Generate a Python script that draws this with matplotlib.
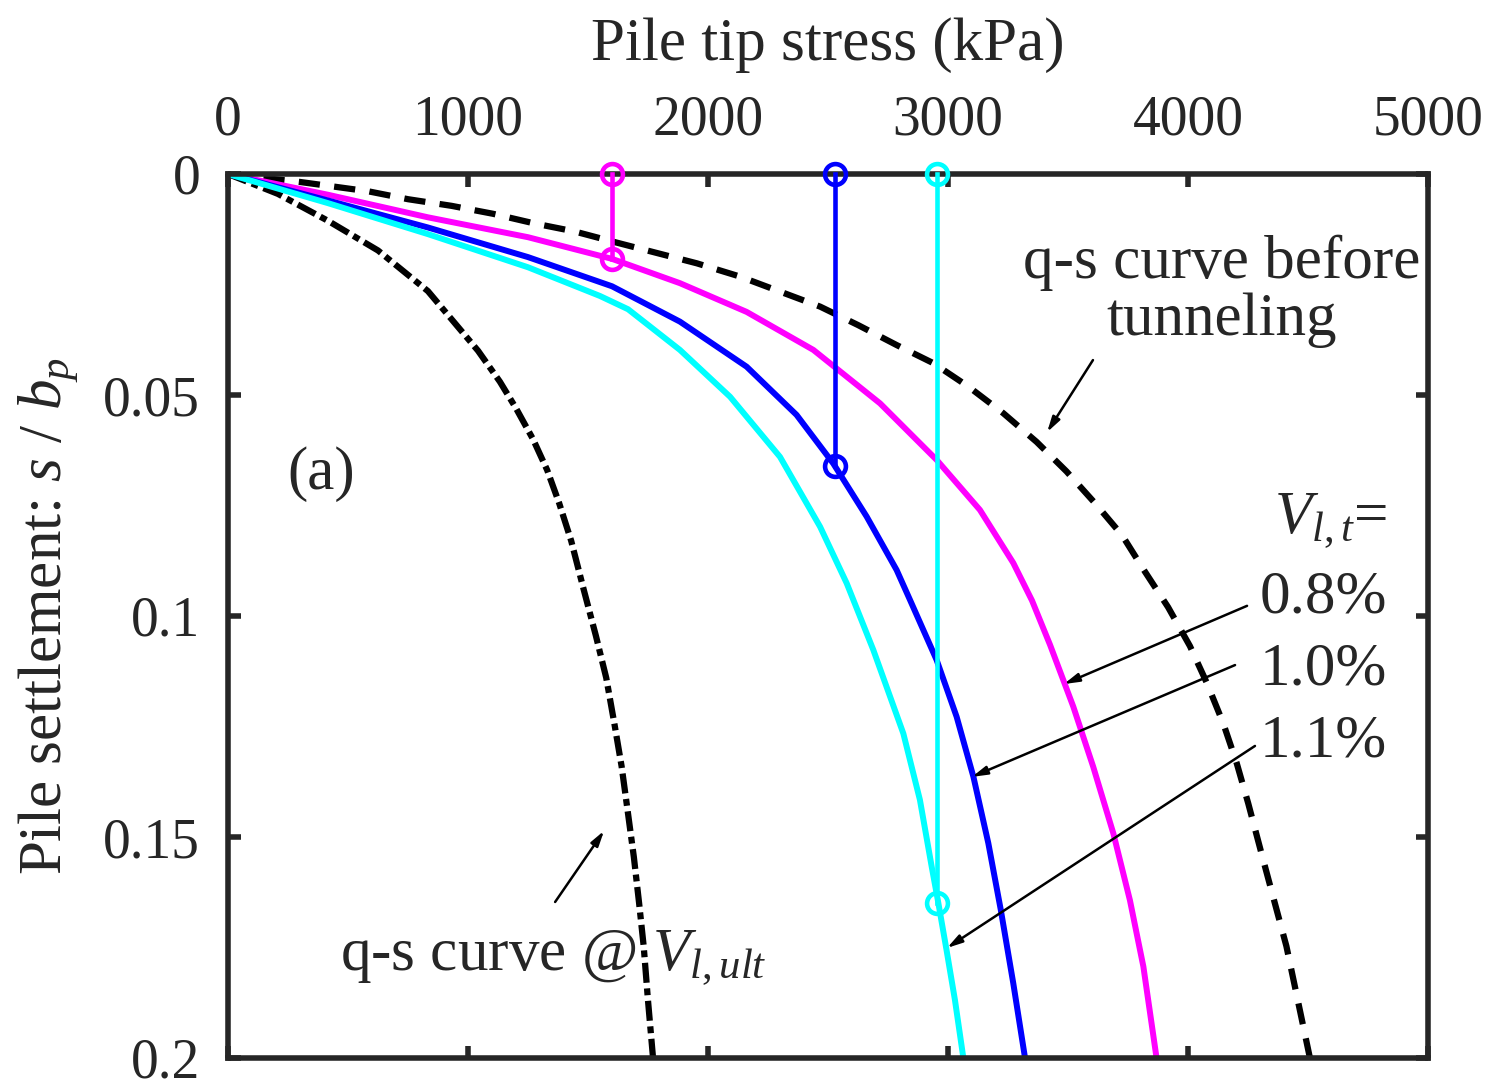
import matplotlib
matplotlib.use("Agg")
import matplotlib.pyplot as plt

plt.rcParams['font.family'] = ['Liberation Serif', 'DejaVu Serif']
plt.rcParams['mathtext.fontset'] = 'custom'
plt.rcParams['mathtext.rm'] = 'Liberation Serif'
plt.rcParams['mathtext.it'] = 'Liberation Serif:italic'

# --- data (q in kPa, s/b_p) ---
before_q = [0, 300, 583, 750, 931, 1104, 1278, 1444, 1618, 1953, 2133, 2300, 2467, 2626, 2786, 2939,
            3085, 3230, 3369, 3494, 3613, 3725, 3821, 3917, 4008, 4079, 4147, 4203, 4251, 4310,
            4410, 4508]
before_s = [0, 0.0018, 0.0039, 0.0057, 0.0072, 0.0090, 0.0112, 0.0130, 0.0155, 0.0202, 0.0232,
            0.0266, 0.0300, 0.0342, 0.0387, 0.0428, 0.0481, 0.0541, 0.0606, 0.0673, 0.0745,
            0.0817, 0.0900, 0.0980, 0.1068, 0.1152, 0.1243, 0.1333, 0.1424, 0.1545, 0.1747, 0.2000]

ult_q = [0, 208, 417, 625, 833, 1042, 1133, 1200, 1271, 1330, 1380, 1430, 1482, 1533, 1576, 1611,
         1640, 1667, 1691, 1713, 1732, 1750, 1771]
ult_s = [0, 0.0045, 0.0106, 0.0173, 0.0265, 0.0400, 0.0470, 0.0530, 0.0600, 0.0670, 0.0745,
         0.0830, 0.0940, 0.1045, 0.1140, 0.1247, 0.1340, 0.1448, 0.1545, 0.1650, 0.1747, 0.1870,
         0.2000]

m_q = [0, 417, 833, 1250, 1600, 1883, 2161, 2439, 2717, 2953, 3133, 3272, 3350, 3425, 3522, 3605,
       3689, 3758, 3814, 3869]
m_s = [0, 0.0047, 0.0098, 0.0143, 0.0192, 0.0247, 0.0312, 0.0398, 0.0519, 0.0647, 0.0760, 0.0880,
       0.0965, 0.1065, 0.1205, 0.1341, 0.1492, 0.1643, 0.1793, 0.2000]

b_q = [0, 417, 833, 1250, 1600, 1883, 2161, 2369, 2522, 2661, 2786, 2842, 2953, 3036, 3106, 3168,
       3220, 3272, 3321]
b_s = [0, 0.0060, 0.0121, 0.0188, 0.0254, 0.0334, 0.0436, 0.0545, 0.0655, 0.0775, 0.0896, 0.0964,
       0.1100, 0.1228, 0.1364, 0.1514, 0.1665, 0.1831, 0.2000]

c_q = [0, 417, 833, 1250, 1550, 1667, 1883, 2092, 2300, 2467, 2578, 2689, 2814, 2883, 2932, 2960,
       2994, 3029, 3064]
c_s = [0, 0.0066, 0.0136, 0.0211, 0.0276, 0.0306, 0.0398, 0.0504, 0.0640, 0.0798, 0.0926, 0.1077,
       0.1266, 0.1416, 0.1567, 0.1650, 0.1756, 0.1869, 0.2000]

# working points (vertical drops)
drop_q = [1600, 2529, 2956]
drop_s = [0.0192, 0.0660, 0.1650]
colors = ['#ff00ff', '#0000ff', '#00ffff']

xticks = [0, 1000, 2000, 3000, 4000, 5000]
yticks = [0, 0.05, 0.1, 0.15, 0.2]
ytick_labels = ['0', '0.05', '0.1', '0.15', '0.2']

fig = plt.figure(figsize=(14.93, 10.91), dpi=100)
ax = fig.add_axes([228/1493, 1-1058/1091, 1200/1493, 884/1091])

ax.plot(before_q, before_s, color='black', lw=4.5, ls=(0, (3.4, 2.3)))
ax.plot(ult_q, ult_s, color='black', lw=4.5, ls=(0, (3.2, 0.9, 1.1, 0.9)))
ax.plot(m_q, m_s, color=colors[0], lw=4.3, solid_joinstyle='round')
ax.plot(b_q, b_s, color=colors[1], lw=4.3, solid_joinstyle='round')
ax.plot(c_q, c_s, color=colors[2], lw=4.3, solid_joinstyle='round')

for q, s, c in zip(drop_q, drop_s, colors):
    ax.plot([q, q], [0, s], color=c, lw=3.3, marker='o', ms=15, mfc='none',
            mec=c, mew=3.3, clip_on=False, zorder=5)

ax.set_xlim(0, 5000)
ax.set_ylim(0.2, 0)
ax.xaxis.tick_top()
ax.xaxis.set_label_position('top')
ax.set_xticks(xticks)
ax.set_yticks(yticks)
ax.set_yticklabels(ytick_labels)
ax.tick_params(direction='in', length=9, width=4, colors='#262626', labelsize=40,
               top=True, bottom=True, left=True, right=True)
ax.tick_params(axis='x', pad=20)
ax.tick_params(axis='y', pad=20)
for sp in ax.spines.values():
    sp.set_linewidth(4)
    sp.set_color('#262626')

ax.set_xlabel('Pile tip stress (kPa)', fontsize=44, color='#262626', labelpad=25)
ax.set_ylabel('Pile settlement: $s$ / $b_p$', fontsize=44, color='#262626', labelpad=16)

tc = '#262626'
ax.text(4142, 0.0265, 'q-s curve before\ntunneling', fontsize=44, color=tc,
        ha='center', va='center', multialignment='center', linespacing=1.05)
ax.text(388, 0.068, '(a)', fontsize=44, color=tc, ha='center', va='center')
ax.text(4829, 0.0787, '$V_{l,t}$=', fontsize=44, color=tc, ha='right', va='center')
ax.text(4829, 0.0959, '0.8%', fontsize=44, color=tc, ha='right', va='center')
ax.text(4829, 0.1122, '1.0%', fontsize=44, color=tc, ha='right', va='center')
ax.text(4829, 0.1285, '1.1%', fontsize=44, color=tc, ha='right', va='center')
ax.text(467, 0.1774, 'q-s curve @ $V_{l,ult}$', fontsize=44, color=tc, ha='left', va='center')

arrows = [((3604, 0.0421), (3413, 0.0584)),
          ((4246, 0.0977), (3483, 0.1154)),
          ((4196, 0.1111), (3100, 0.1364)),
          ((4279, 0.1294), (2996, 0.1751)),
          ((1363, 0.1647), (1567, 0.1486))]
for start, tip in arrows:
    ax.annotate('', xy=tip, xytext=start,
                arrowprops=dict(arrowstyle='-|>,head_length=0.9,head_width=0.25',
                                color='black', lw=1.8, shrinkA=0, shrinkB=0))

fig.savefig('out.png', dpi=100)
